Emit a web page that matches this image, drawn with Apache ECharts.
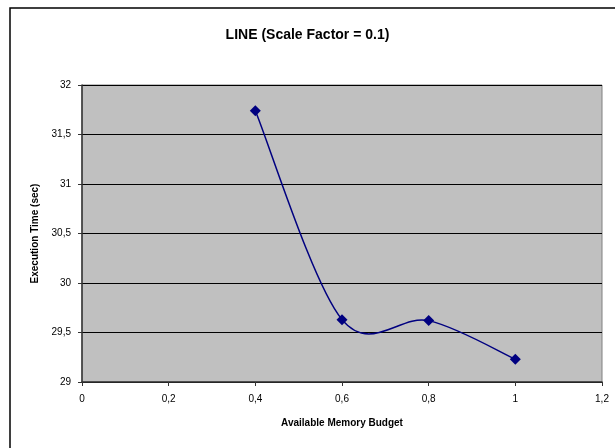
<!DOCTYPE html>
<html>
<head>
<meta charset="utf-8">
<script src="https://cdn.jsdelivr.net/npm/echarts@6/dist/echarts.min.js"></script>
<style>
  html, body { margin: 0; padding: 0; background: #fff; }
  #chart { width: 615px; height: 448px; }
</style>
</head>
<body>
<div id="chart"></div>
<script>
// Memory budget fractions and measured run times
const budgets = [0.4, 0.6, 0.8, 1.0];
const execTimes = [31.74, 29.63, 29.62, 29.23];

const xTicks = [0, 0.2, 0.4, 0.6, 0.8, 1.0, 1.2];
const yTicks = [29, 29.5, 30, 30.5, 31, 31.5, 32];

const commaDecimal = v => String(+v.toFixed(2)).replace('.', ',');

const chart = echarts.init(document.getElementById('chart'), null, { renderer: 'canvas' });
const font = '"Liberation Sans", Arial, sans-serif';
const navy = '#000080';

// Smoothed curve through the points (Catmull-Rom style cubic segments,
// computed in pixel space from the axis scales).
function renderCurve(params, api) {
  if (params.dataIndexInside !== 0) return null;
  const pts = budgets.map((b, i) => api.coord([b, execTimes[i]]));
  const n = pts.length;
  const children = [];
  for (let i = 0; i < n - 1; i++) {
    const p0 = pts[Math.max(i - 1, 0)];
    const p1 = pts[i];
    const p2 = pts[i + 1];
    const p3 = pts[Math.min(i + 2, n - 1)];
    children.push({
      type: 'bezierCurve',
      shape: {
        x1: p1[0], y1: p1[1],
        cpx1: p1[0] + (p2[0] - p0[0]) / 6,
        cpy1: p1[1] + (p2[1] - p0[1]) / 6,
        cpx2: p2[0] - (p3[0] - p1[0]) / 6,
        cpy2: p2[1] - (p3[1] - p1[1]) / 6,
        x2: p2[0], y2: p2[1]
      },
      style: { fill: 'none', stroke: navy, lineWidth: 1.5 }
    });
  }
  return { type: 'group', children: children };
}

chart.setOption({
  backgroundColor: '#ffffff',
  animation: false,
  title: {
    text: 'LINE (Scale Factor = 0.1)',
    left: 'center',
    top: 23,
    textStyle: { fontFamily: font, fontSize: 14, fontWeight: 'bold', color: '#000' }
  },
  graphic: [{
    type: 'rect',
    shape: { x: 10, y: 8, width: 640, height: 480 },
    style: { fill: 'none', stroke: '#000', lineWidth: 1.5 },
    z: 0
  }],
  grid: {
    left: 82, right: 13, top: 85, bottom: 66,
    show: true,
    backgroundColor: '#c0c0c0',
    borderColor: '#808080',
    borderWidth: 1
  },
  xAxis: {
    type: 'value',
    min: xTicks[0],
    max: xTicks[xTicks.length - 1],
    interval: 0.2,
    name: 'Available Memory Budget',
    nameLocation: 'middle',
    nameGap: 36,
    nameTextStyle: { fontFamily: font, fontSize: 10, fontWeight: 'bold', color: '#000' },
    axisLine: { show: true, onZero: false, lineStyle: { color: '#333', width: 1.5 } },
    axisTick: { show: true, length: 4, lineStyle: { color: '#333' } },
    axisLabel: {
      fontFamily: font, fontSize: 10, color: '#000', margin: 12,
      formatter: v => commaDecimal(v)
    },
    splitLine: { show: false }
  },
  yAxis: {
    type: 'value',
    min: yTicks[0],
    max: yTicks[yTicks.length - 1],
    interval: 0.5,
    name: 'Execution Time (sec)',
    nameLocation: 'middle',
    nameGap: 40,
    nameTextStyle: { fontFamily: font, fontSize: 10, fontWeight: 'bold', color: '#000' },
    axisLine: { show: true, lineStyle: { color: '#333', width: 1.5 } },
    axisTick: { show: true, length: 4, lineStyle: { color: '#333' } },
    axisLabel: {
      fontFamily: font, fontSize: 10, color: '#000', margin: 11,
      formatter: v => commaDecimal(v)
    },
    splitLine: { show: true, lineStyle: { color: '#000', width: 1 } }
  },
  series: [
    {
      type: 'custom',
      renderItem: renderCurve,
      data: budgets.map((b, i) => [b, execTimes[i]]),
      z: 2,
      silent: true
    },
    {
      type: 'scatter',
      data: budgets.map((b, i) => [b, execTimes[i]]),
      symbol: 'diamond',
      symbolSize: 11,
      itemStyle: { color: navy, opacity: 1 },
      z: 3
    }
  ]
});
</script>
</body>
</html>
